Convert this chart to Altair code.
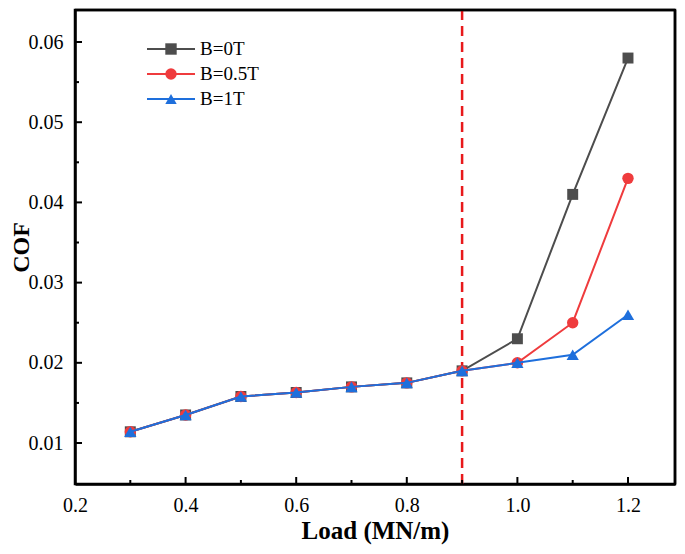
import altair as alt
import pandas as pd

loads = [0.3, 0.4, 0.5, 0.6, 0.7, 0.8, 0.9, 1.0, 1.1, 1.2]
cof_0T = [0.0114, 0.0135, 0.0158, 0.0163, 0.0170, 0.0175, 0.0190, 0.0230, 0.0410, 0.0580]
cof_05T = [0.0114, 0.0135, 0.0158, 0.0163, 0.0170, 0.0175, 0.0190, 0.0200, 0.0250, 0.0430]
cof_1T = [0.0114, 0.0135, 0.0158, 0.0163, 0.0170, 0.0175, 0.0190, 0.0200, 0.0210, 0.0260]
series = ["B=0T", "B=0.5T", "B=1T"]
colors = ["#4d4d4d", "#ef3b3d", "#1e6fdc"]
shapes = ["square", "circle", "triangle-up"]
sizes = [120, 130, 150]
threshold = [0.9]
x_major = [0.2, 0.4, 0.6, 0.8, 1.0, 1.2]
x_minor = [0.3, 0.5, 0.7, 0.9, 1.1]
y_major = [0.01, 0.02, 0.03, 0.04, 0.05, 0.06]
y_minor = [0.015, 0.025, 0.035, 0.045, 0.055]

W, H = 600, 474
FONT = "Liberation Serif"

xs = alt.Scale(domain=[0.2, 1.285], nice=False, zero=False)
ys = alt.Scale(domain=[0.00489, 0.06399], nice=False, zero=False)

rows = []
for name, vals in zip(series, [cof_0T, cof_05T, cof_1T]):
    for l, v in zip(loads, vals):
        rows.append({"Load": l, "COF": v, "series": name})
df = pd.DataFrame(rows)

xax = alt.Axis(values=x_major, format=".1f", ticks=False, domain=True, domainColor="black",
               domainWidth=2.5, grid=False,
               labelFont=FONT, labelFontSize=20, labelColor="black", labelPadding=11,
               labelFlush=False,
               title="Load (MN/m)", titleFont=FONT, titleFontSize=25, titleFontWeight="bold",
               titleColor="black", titlePadding=3)
yax = alt.Axis(values=y_major, format=".2f", ticks=False, domain=True, domainColor="black",
               domainWidth=2.5, grid=False,
               labelFont=FONT, labelFontSize=20, labelColor="black", labelPadding=12,
               labelFlush=False,
               title="COF", titleFont=FONT, titleFontSize=24, titleFontWeight="bold",
               titleColor="black", titlePadding=-5)

layers = []
layers.append(
    alt.Chart(pd.DataFrame({"x": threshold})).mark_rule(
        color="#e8191b", strokeWidth=2.5, strokeDash=[10, 6]
    ).encode(x=alt.X("x:Q", scale=xs, axis=xax))
)
for name, col, shp, sz in zip(series, colors, shapes, sizes):
    sub = df[df.series == name]
    base = alt.Chart(sub)
    layers.append(base.mark_line(color=col, strokeWidth=2).encode(
        x=alt.X("Load:Q", scale=xs, axis=xax), y=alt.Y("COF:Q", scale=ys, axis=yax)))
    layers.append(base.mark_point(color=col, filled=True, opacity=1, shape=shp, size=sz).encode(
        x=alt.X("Load:Q", scale=xs, axis=xax), y=alt.Y("COF:Q", scale=ys, axis=yax)))

layers.append(alt.Chart(pd.DataFrame({"x": x_major})).mark_rule(color="black", strokeWidth=2).encode(
    x=alt.X("x:Q", scale=xs, axis=xax), y=alt.value(H), y2=alt.value(H - 7)))
layers.append(alt.Chart(pd.DataFrame({"x": x_minor})).mark_rule(color="black", strokeWidth=2).encode(
    x=alt.X("x:Q", scale=xs, axis=xax), y=alt.value(H), y2=alt.value(H - 4)))
layers.append(alt.Chart(pd.DataFrame({"y": y_major})).mark_rule(color="black", strokeWidth=2).encode(
    y=alt.Y("y:Q", scale=ys, axis=yax), x=alt.value(0), x2=alt.value(7)))
layers.append(alt.Chart(pd.DataFrame({"y": y_minor})).mark_rule(color="black", strokeWidth=2).encode(
    y=alt.Y("y:Q", scale=ys, axis=yax), x=alt.value(0), x2=alt.value(4)))

# frame: top and right edges
frame_df = pd.DataFrame({"edge": ["frame"]})
layers.append(alt.Chart(frame_df).mark_rule(color="black", strokeWidth=2.5).encode(
    x=alt.value(0), x2=alt.value(W), y=alt.value(0)))
layers.append(alt.Chart(frame_df).mark_rule(color="black", strokeWidth=2.5).encode(
    x=alt.value(W), y=alt.value(0), y2=alt.value(H)))

main = alt.layer(*layers)

leg_df = pd.DataFrame({"series": series})
ly = alt.Y("series:N", scale=alt.Scale(domain=series, range=[39, 89], type="point", padding=0), axis=None)
cs = alt.Color("series:N", scale=alt.Scale(domain=series, range=colors), legend=None)
leg_line = alt.Chart(leg_df).mark_rule(strokeWidth=2).encode(
    y=ly, x=alt.value(72), x2=alt.value(120), color=cs)
leg_pts = alt.Chart(leg_df).mark_point(filled=True, opacity=1, size=130).encode(
    y=ly, x=alt.value(96), color=cs,
    shape=alt.Shape("series:N", scale=alt.Scale(domain=series, range=shapes), legend=None))
leg_txt = alt.Chart(leg_df).mark_text(align="left", baseline="middle", font=FONT, fontSize=19,
                                      color="black").encode(
    y=ly, x=alt.value(125), text="series:N")
legend = alt.layer(leg_line, leg_pts, leg_txt)

chart = alt.layer(main, legend).resolve_scale(
    y="independent", color="independent", shape="independent"
).properties(
    width=W, height=H,
    autosize=alt.AutoSizeParams(type="none"),
    padding={"left": 67, "top": 2, "right": 2, "bottom": 62},
    background="white",
).configure_view(
    stroke="black", strokeWidth=2.5
).configure_axis(
    labelFont=FONT, titleFont=FONT, labelColor="black", titleColor="black"
).configure_text(font=FONT)

chart.save("out.html", embed_options={"renderer": "svg", "actions": False})
